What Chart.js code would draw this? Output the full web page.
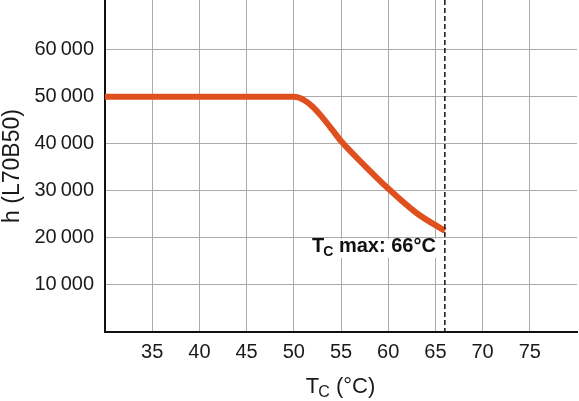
<!DOCTYPE html>
<html>
<head>
<meta charset="utf-8">
<script src="https://cdn.jsdelivr.net/npm/chart.js@4/dist/chart.umd.min.js"></script>
<style>
  html, body { margin: 0; padding: 0; background: #fff; }
  #wrap { width: 579px; height: 401px; }
</style>
</head>
<body>
<div id="wrap"><canvas id="lifeChart" width="579" height="401"></canvas></div>
<script>
// Tc in °C and lifetime h (L70B50)
const tempC = [30, 50, 51, 52, 53, 54, 55, 57.5, 60, 63, 66];
const lifeHours = [50000, 50000, 49400, 47900, 45700, 43200, 40600, 35400, 30500, 25300, 21500];

const xTicks = [35, 40, 45, 50, 55, 60, 65, 70, 75];
const yTicks = [10000, 20000, 30000, 40000, 50000, 60000];

const tcMax = 66;
const tcMaxLabel = ['T', 'C', ' max: 66°C'];
const xTitle = ['T', 'C', ' (°C)'];
const yTitle = 'h (L70B50)';

const FONT = '"Liberation Sans", Arial, Helvetica, sans-serif';
const LINE_COLOR = '#e0501e';
const GRID_COLOR = '#ababab';

// draw "T" + subscript "C" + rest, returns total width
function drawSubText(ctx, parts, x, y, size, weight, measureOnly) {
    const subSize = Math.round(size * 0.72);
    ctx.font = `${weight} ${size}px ${FONT}`;
    const w0 = ctx.measureText(parts[0]).width;
    const w2 = ctx.measureText(parts[2]).width;
    ctx.font = `${weight} ${subSize}px ${FONT}`;
    const w1 = ctx.measureText(parts[1]).width;
    if (measureOnly) return w0 + w1 + w2;
    ctx.textBaseline = 'alphabetic';
    ctx.textAlign = 'left';
    ctx.font = `${weight} ${size}px ${FONT}`;
    ctx.fillText(parts[0], x, y);
    ctx.font = `${weight} ${subSize}px ${FONT}`;
    ctx.fillText(parts[1], x + w0 - 1, y + size * 0.2);
    ctx.font = `${weight} ${size}px ${FONT}`;
    ctx.fillText(parts[2], x + w0 + w1 - 1, y);
    return w0 + w1 + w2;
}

const overlayPlugin = {
    id: 'overlay',
    afterDatasetsDraw(chart) {
        const { ctx, chartArea, scales } = chart;
        const xPx = scales.x.getPixelForValue(tcMax);

        ctx.save();
        // Tc max dashed line
        ctx.strokeStyle = '#111';
        ctx.lineWidth = 1.5;
        ctx.setLineDash([5, 3]);
        ctx.beginPath();
        ctx.moveTo(xPx, chartArea.top);
        ctx.lineTo(xPx, chartArea.bottom);
        ctx.stroke();
        ctx.setLineDash([]);

        // label with white backing
        const size = 20;
        const w = drawSubText(ctx, tcMaxLabel, 0, 0, size, 'bold', true);
        const right = xPx - 8;
        const y20k = scales.y.getPixelForValue(20000);
        ctx.fillStyle = '#fff';
        ctx.fillRect(right - w - 3, y20k + 1, w + 6, 19);
        ctx.fillStyle = '#111';
        drawSubText(ctx, tcMaxLabel, right - w, y20k + 14, size, 'bold', false);

        // x axis title
        const tSize = 22;
        const tw = drawSubText(ctx, xTitle, 0, 0, tSize, 'normal', true);
        const cx = (chartArea.left + chartArea.right) / 2;
        ctx.fillStyle = '#1a1a1a';
        drawSubText(ctx, xTitle, cx - tw / 2, chartArea.bottom + 61, tSize, 'normal', false);
        ctx.restore();
    }
};

new Chart(document.getElementById('lifeChart'), {
    type: 'line',
    data: {
        datasets: [{
            data: tempC.map((t, i) => ({ x: t, y: lifeHours[i] })),
            borderColor: LINE_COLOR,
            borderWidth: 6,
            pointRadius: 0,
            cubicInterpolationMode: 'monotone',
            borderJoinStyle: 'round',
            fill: false
        }]
    },
    options: {
        responsive: false,
        animation: false,
        devicePixelRatio: 1,
        layout: { padding: { top: 0, right: 2, bottom: 0, left: 0 } },
        plugins: {
            legend: { display: false },
            tooltip: { enabled: false }
        },
        scales: {
            x: {
                type: 'linear',
                min: 30,
                max: 80,
                afterBuildTicks: s => { s.ticks = xTicks.map(v => ({ value: v })); },
                afterFit: s => { s.height = 69; s.paddingLeft = 0; s.paddingRight = 0; },
                grid: { color: GRID_COLOR, lineWidth: 1, drawTicks: false },
                border: { color: '#111', width: 2 },
                ticks: {
                    color: '#1a1a1a',
                    padding: 8,
                    font: { family: FONT, size: 20 },
                    maxRotation: 0
                }
            },
            y: {
                type: 'linear',
                min: 0,
                max: 70600,
                afterBuildTicks: s => { s.ticks = yTicks.map(v => ({ value: v })); },
                afterFit: s => { s.width = 105; s.paddingTop = 0; s.paddingBottom = 0; },
                grid: { color: GRID_COLOR, lineWidth: 1, drawTicks: false },
                border: { color: '#111', width: 2 },
                title: {
                    display: true,
                    text: yTitle,
                    color: '#1a1a1a',
                    padding: 0,
                    font: { family: FONT, size: 23, lineHeight: 1.1 }
                },
                ticks: {
                    color: '#1a1a1a',
                    padding: 11,
                    font: { family: FONT, size: 20 },
                    callback: v => String(v / 1000) + '\u2009000'
                }
            }
        }
    },
    plugins: [overlayPlugin]
});
</script>
</body>
</html>
